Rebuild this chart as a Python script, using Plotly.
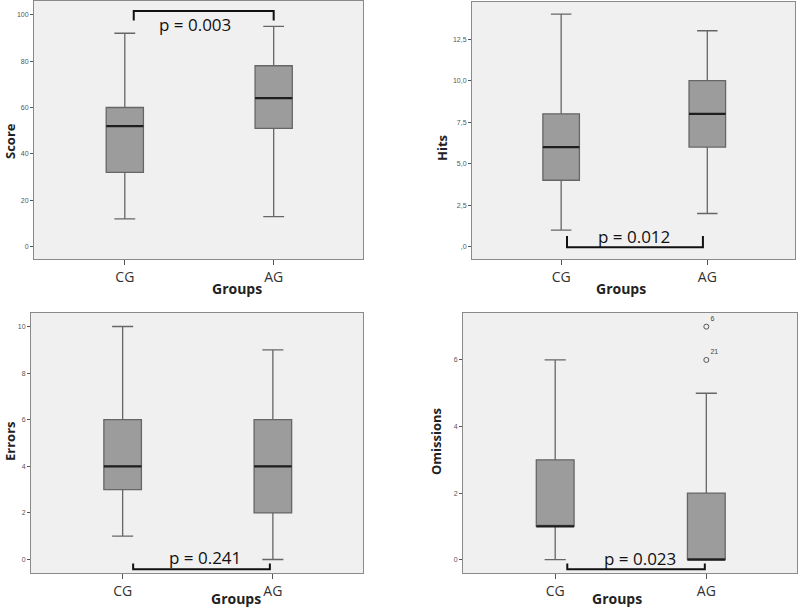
import plotly.graph_objects as go

# ---------------- data ----------------
groups = ["CG", "AG"]

score_min = [12, 13]
score_q1 = [32, 51]
score_med = [52, 64]
score_q3 = [60, 78]
score_max = [92, 95]

hits_min = [1, 2]
hits_q1 = [4, 6]
hits_med = [6, 8]
hits_q3 = [8, 10]
hits_max = [14, 13]

errors_min = [1, 0]
errors_q1 = [3, 2]
errors_med = [4, 4]
errors_q3 = [6, 6]
errors_max = [10, 9]

omis_min = [0, 0]
omis_q1 = [1, 0]
omis_med = [1, 0]
omis_q3 = [3, 2]
omis_max = [6, 5]
omis_out_group = ["AG", "AG"]
omis_out_vals = [7, 6]
omis_out_ids = ["6", "21"]

p_values = ["p = 0.003", "p = 0.012", "p = 0.241", "p = 0.023"]
y_titles = ["Score", "Hits", "Errors", "Omissions"]

score_ticks = [0, 20, 40, 60, 80, 100]
hits_ticks = [0, 2.5, 5, 7.5, 10, 12.5]
hits_ticktext = [",0", "2,5", "5,0", "7,5", "10,0", "12,5"]
errors_ticks = [0, 2, 4, 6, 8, 10]
omis_ticks = [0, 2, 4, 6]

# ---------------- style ----------------
W, H = 800, 607
BOX_FILL = "#9c9c9c"
BOX_LINE = "#666666"
MED_LINE = "#1e1e1e"
BG = "#f0f0f0"
FRAME = "#8a8a8a"
FONT = "Open Sans"

panels = [
    dict(stats=(score_min, score_q1, score_med, score_q3, score_max),
         xd=(34, 363), yd=(1, 259), yr=(-5.3, 105.9), tv=score_ticks, tt=[str(v) for v in score_ticks],
         ytitle_px=(10, 141), xtitle_dy=29),
    dict(stats=(hits_min, hits_q1, hits_med, hits_q3, hits_max),
         xd=(472, 795), yd=(2, 259), yr=(-0.74, 14.73), tv=hits_ticks, tt=hits_ticktext,
         ytitle_px=(442, 148), xtitle_dy=29),
    dict(stats=(errors_min, errors_q1, errors_med, errors_q3, errors_max),
         xd=(31, 363), yd=(313, 573), yr=(-0.58, 10.58), tv=errors_ticks, tt=[str(v) for v in errors_ticks],
         ytitle_px=(10, 441), xtitle_dy=25),
    dict(stats=(omis_min, omis_q1, omis_med, omis_q3, omis_max),
         xd=(463, 797), yd=(313, 573), yr=(-0.40, 7.41), tv=omis_ticks, tt=[str(v) for v in omis_ticks],
         ytitle_px=(436, 442), xtitle_dy=25),
]

fig = go.Figure()
layout = {}
shapes = []
annotations = []

# bracket definitions (x in category-index units, y in axis-domain fraction)
brackets = [
    dict(x0=0.06, x1=1.0, ybar=0.961, yleg=0.924, text_y=0.91, text_x=0.47),
    dict(x0=0.04, x1=0.97, ybar=0.0455, yleg=0.0895, text_y=0.087, text_x=0.50),
    dict(x0=0.07, x1=0.98, ybar=0.014, yleg=0.037, text_y=0.058, text_x=0.55),
    dict(x0=0.08, x1=0.99, ybar=0.014, yleg=0.037, text_y=0.056, text_x=0.56),
]

for i, p in enumerate(panels):
    n = i + 1
    xa = "x" if n == 1 else f"x{n}"
    ya = "y" if n == 1 else f"y{n}"
    mn, q1, med, q3, mx = p["stats"]
    fig.add_trace(go.Box(
        x=groups, q1=q1, median=med, q3=q3, lowerfence=mn, upperfence=mx,
        fillcolor=BOX_FILL, line=dict(color=BOX_LINE, width=1.3),
        width=0.25, whiskerwidth=0.56, boxpoints=False,
        xaxis=xa, yaxis=ya, showlegend=False, hoverinfo="skip",
    ))
    # medians drawn thicker and darker
    for gi, g in enumerate(groups):
        shapes.append(dict(type="line", xref=xa, yref=ya,
                           x0=gi - 0.125, x1=gi + 0.125, y0=med[gi], y1=med[gi],
                           line=dict(color=MED_LINE, width=2.2)))
    x0px, x1px = p["xd"]
    ytop, ybot = p["yd"]
    xdom = [x0px / W, x1px / W]
    ydom = [1 - ybot / H, 1 - ytop / H]
    axis_common = dict(showline=True, mirror=True, linecolor=FRAME, linewidth=1,
                       showgrid=False, zeroline=False)
    layout["xaxis" if n == 1 else f"xaxis{n}"] = dict(
        domain=xdom, anchor=ya, range=[-0.61, 1.6], type="category",
        ticks="outside", ticklen=5, tickcolor="#555555",
        tickfont=dict(family=FONT, size=14, color="#333333"), **axis_common)
    layout["yaxis" if n == 1 else f"yaxis{n}"] = dict(
        domain=ydom, anchor=xa, range=list(p["yr"]),
        tickvals=p["tv"], ticktext=p["tt"],
        ticks="outside", ticklen=3, tickcolor="#555555",
        tickfont=dict(family="Liberation Sans", size=7, color="#555555"), **axis_common)

    # axis titles
    xmid_cat = (xdom[0] + xdom[1]) / 2
    annotations.append(dict(text="<b>Groups</b>", xref="paper", yref="paper",
                            x=xmid_cat + 13 / W, y=ydom[0] - p["xtitle_dy"] / H, yanchor="middle",
                            borderpad=0, showarrow=False,
                            font=dict(family=FONT, size=14, color="#222222")))
    tx, ty = p["ytitle_px"]
    annotations.append(dict(text=f"<b>{y_titles[i]}</b>", xref="paper", yref="paper",
                            x=tx / W, y=1 - ty / H, textangle=-90,
                            xanchor="center", yanchor="middle", borderpad=0,
                            showarrow=False, font=dict(family=FONT, size=13, color="#222222")))

    # significance bracket
    b = brackets[i]
    ydref = f"{ya} domain"
    shapes.append(dict(type="path", xref=xa, yref=ydref,
                       path=f"M {b['x0']},{b['yleg']} L {b['x0']},{b['ybar']} L {b['x1']},{b['ybar']} L {b['x1']},{b['yleg']}",
                       line=dict(color="#111111", width=2)))
    annotations.append(dict(text=p_values[i], xref=xa, yref=ydref, x=b["text_x"], y=b["text_y"],
                            yanchor="middle", showarrow=False,
                            font=dict(family=FONT, size=17, color="#111111")))

# outliers in Omissions
fig.add_trace(go.Scatter(
    x=omis_out_group, y=omis_out_vals, mode="markers+text", text=omis_out_ids,
    textposition="top right", textfont=dict(family="Liberation Sans", size=7, color="#444444"),
    marker=dict(symbol="circle-open", size=5, color="#555555", line=dict(width=1)),
    xaxis="x4", yaxis="y4", showlegend=False, hoverinfo="skip",
))

fig.update_layout(
    width=W, height=H, margin=dict(l=0, r=0, t=0, b=0),
    paper_bgcolor="white", plot_bgcolor=BG,
    shapes=shapes, annotations=annotations, **layout,
)

fig.write_html("out.html", config={"displayModeBar": False},
               post_script="document.body.style.margin='0';document.body.style.overflow='hidden';")
